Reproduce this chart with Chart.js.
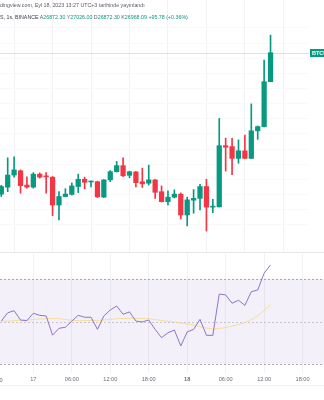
<!DOCTYPE html>
<html lang="tr">
<head>
<meta charset="utf-8">
<script src="https://cdn.jsdelivr.net/npm/chart.js@4.4.0/dist/chart.umd.min.js"></script>
<style>
  html, body { margin: 0; padding: 0; background: #fff; }
  #wrap { position: relative; width: 324px; height: 400px; overflow: hidden; font-family: "Liberation Sans", Arial, sans-serif; }
  #priceBox { position: absolute; left: 0; top: 0; width: 324px; height: 253px; }
  #rsiBox { position: absolute; left: 0; top: 253px; width: 324px; height: 132px; }
  .sep { position: absolute; left: 0; width: 324px; height: 1px; }
  .hdr { position: absolute; left: 0; font-size: 5.3px; line-height: 7px; white-space: nowrap; color: #5d606b; }
  .g { color: #089981; }
  .dk { color: #3b3e48; }
  #edgeTick { position: absolute; right: 321.5px; top: 376.5px; font-size: 5.6px; line-height: 7px; color: #6a6d78; white-space: nowrap; }
</style>
</head>
<body>
<div id="wrap">
  <div id="priceBox"><canvas id="priceChart"></canvas></div>
  <div id="rsiBox"><canvas id="rsiChart"></canvas></div>
  <div class="sep" style="top:252px;background:#e4e6ec"></div>
  <div class="sep" style="top:385px;background:#eef0f3"></div>
  <div class="hdr" style="top:2px">dingview.com, Eyl 18, 2023 13:27 UTC+3 tarihinde yayınlandı</div>
  <div class="hdr" id="ohlc" style="top:14px"></div>
  <div id="edgeTick">18:00</div>
</div>
<script>
"use strict";

// BTCUSDT 1s mumlar, 16 Eyl 19:00 -> 18 Eyl 13:00
const opens = [26501, 26524, 26564, 26578, 26531, 26524, 26567, 26560, 26557, 26465,
  26493, 26500, 26526, 26550, 26541, 26542, 26491, 26548, 26575, 26595,
  26563, 26574, 26542, 26537, 26548, 26509, 26476, 26491, 26501, 26432,
  26481, 26487, 26526, 26458, 26459, 26661, 26658, 26619, 26644, 26619,
  26710, 26724, 26872.30];
const highs = [26530, 26621, 26624, 26581, 26558, 26572, 26571, 26572, 26559, 26509,
  26519, 26538, 26567, 26557, 26544, 26544, 26549, 26579, 26609, 26621,
  26577, 26576, 26587, 26597, 26549, 26528, 26512, 26515, 26505, 26491,
  26516, 26533, 26550, 26484, 26751, 26686, 26685, 26680, 26696, 26799,
  26726, 26944, 27026.00];
const lows = [26493, 26509, 26557, 26504, 26521, 26521, 26554, 26504, 26430, 26416,
  26492, 26498, 26506, 26518, 26525, 26490, 26490, 26542, 26574, 26559,
  26555, 26525, 26523, 26531, 26487, 26475, 26465, 26488, 26419, 26396,
  26438, 26449, 26379, 26440, 26458, 26577, 26565, 26603, 26619, 26619,
  26682, 26723, 26872.30];
const closes = [26526, 26564, 26581, 26529, 26524, 26567, 26557, 26558, 26465, 26493,
  26501, 26528, 26550, 26540, 26543, 26492, 26548, 26575, 26595, 26562,
  26575, 26539, 26535, 26548, 26507, 26476, 26491, 26501, 26432, 26482,
  26487, 26526, 26458, 26459, 26661, 26656, 26619, 26644, 26619, 26710,
  26724, 26872.31, 26968.09];

// RSI(14) ve hareketli ortalaması
const rsi = [50.2, 54.1, 55.1, 50.7, 50.4, 53.9, 52.9, 52.6, 43.6, 46.8,
  47.3, 50.2, 52.9, 52.0, 52.0, 46.3, 52.6, 55.4, 57.3, 53.4,
  54.5, 50.2, 49.8, 50.7, 46.3, 42.4, 44.7, 46.0, 38.5, 45.1,
  46.3, 51.0, 43.5, 43.5, 62.9, 62.5, 58.6, 60.0, 57.6, 64.0,
  64.8, 72.7, 76.6];
const rsiMa = [50.2, 50.2, 50.4, 50.6, 50.7, 50.9, 51.2, 51.3, 51.4, 51.3,
  50.9, 50.6, 50.4, 50.4, 50.5, 50.5, 50.7, 51.0, 51.3, 51.4,
  51.5, 51.5, 51.4, 51.3, 50.9, 50.5, 50.1, 49.8, 49.3, 48.8,
  48.4, 47.6, 46.9, 46.5, 46.7, 47.2, 47.9, 48.6, 49.5, 50.9,
  52.8, 55.2, 57.8];
const rsiLevels = [70, 50, 30];

// zaman ekseni: 16 Eyl 00:00'dan itibaren saat
const firstHour = 19;
const tickHours = [18, 24, 30, 36, 42, 48, 54, 60, 66];
const tickLabels = ["18:00", "17", "06:00", "12:00", "18:00", "18", "06:00", "12:00", "18:00"];

const hours = opens.map((_, i) => firstHour + i);

const UP = "#089981";
const DOWN = "#f23645";
const GRID = "#f1f2f5";

const candleColors = opens.map((o, i) => (closes[i] >= o ? UP : DOWN));

// başlık satırı
const n = closes.length - 1;
const chg = closes[n] - closes[n - 1];
const pct = (chg / closes[n - 1]) * 100;
document.getElementById("ohlc").innerHTML =
  '<span class="dk">S, 1s, BINANCE</span> ' +
  'A<span class="g">' + opens[n].toFixed(2) + '</span> ' +
  'Y<span class="g">' + highs[n].toFixed(2) + '</span> ' +
  'D<span class="g">' + lows[n].toFixed(2) + '</span> ' +
  'K<span class="g">' + closes[n].toFixed(2) + '</span> ' +
  '<span class="g">+' + chg.toFixed(2) + ' (+' + pct.toFixed(2) + '%)</span>';

const xRange = { min: 18.8, max: 67.0 };

function timeTicks(scale) {
  scale.ticks = tickHours
    .filter((h) => h >= scale.min && h <= scale.max)
    .map((h) => ({ value: h }));
}

// son fiyat çizgisi ve etiketi
const lastPrice = {
  id: "lastPrice",
  beforeDatasetsDraw(chart) {
    const { ctx, chartArea } = chart;
    const y = Math.round(chart.scales.y.getPixelForValue(closes[n])) + 0.5;
    ctx.save();
    ctx.strokeStyle = "#dedfe4";
    ctx.lineWidth = 1;
    ctx.beginPath();
    ctx.moveTo(chartArea.left, y);
    ctx.lineTo(chartArea.right, y);
    ctx.stroke();
    ctx.restore();
  },
  afterDraw(chart) {
    const { ctx, chartArea } = chart;
    const y = Math.round(chart.scales.y.getPixelForValue(closes[n]));
    ctx.save();
    ctx.fillStyle = UP;
    ctx.fillRect(chartArea.right + 1, y - 4, 30, 8);
    ctx.fillStyle = "#fff";
    ctx.font = "bold 5.5px 'Liberation Sans', Arial, sans-serif";
    ctx.textBaseline = "middle";
    ctx.fillText("BTCUSDT", chartArea.right + 3, y + 0.5);
    ctx.restore();
  },
};

new Chart(document.getElementById("priceChart"), {
  type: "bar",
  data: {
    datasets: [
      {
        // fitiller
        data: hours.map((h, i) => ({ x: h, y: [lows[i], highs[i]] })),
        backgroundColor: candleColors,
        barThickness: 1,
        grouped: false,
        order: 2,
      },
      {
        // gövdeler
        data: hours.map((h, i) => ({ x: h, y: [opens[i], closes[i]] })),
        backgroundColor: candleColors,
        barThickness: 4.6,
        minBarLength: 1,
        grouped: false,
        order: 1,
      },
    ],
  },
  options: {
    animation: false,
    responsive: true,
    maintainAspectRatio: false,
    layout: { padding: { left: 0, right: 15, top: 0, bottom: 0 } },
    plugins: { legend: { display: false }, tooltip: { enabled: false } },
    scales: {
      x: {
        type: "linear",
        min: xRange.min,
        max: xRange.max,
        offset: false,
        afterBuildTicks: timeTicks,
        afterFit: (s) => { s.height = 0; },
        ticks: { display: false },
        grid: { color: GRID, drawTicks: false },
        border: { display: false },
      },
      y: {
        position: "right",
        min: 26306.5,
        max: 27142.16,
        afterFit: (s) => { s.width = 0; },
        ticks: { display: false, stepSize: 50 },
        grid: {
          drawTicks: false,
          color: (c) => (c.tick && c.tick.value % 50 === 0 ? "#f9f9fb" : "transparent"),
        },
        border: { display: false },
      },
    },
  },
  plugins: [lastPrice],
});

// RSI bandı ve seviye çizgileri (tüm genişlik boyunca)
const rsiBand = {
  id: "rsiBand",
  beforeDatasetsDraw(chart) {
    const { ctx, chartArea } = chart;
    const y = chart.scales.y;
    const top = y.getPixelForValue(rsiLevels[0]);
    const bottom = y.getPixelForValue(rsiLevels[2]);
    ctx.save();
    ctx.fillStyle = "rgba(126, 87, 194, 0.09)";
    ctx.fillRect(chartArea.left, top, chart.width - chartArea.left, bottom - top);
    ctx.setLineDash([2, 2]);
    ctx.lineWidth = 1;
    rsiLevels.forEach((lv, i) => {
      const py = Math.round(y.getPixelForValue(lv)) + 0.5;
      ctx.strokeStyle = i === 1 ? "rgba(120, 123, 134, 0.35)" : "rgba(120, 123, 134, 0.6)";
      ctx.beginPath();
      ctx.moveTo(chartArea.left, py);
      ctx.lineTo(chart.width, py);
      ctx.stroke();
    });
    ctx.restore();
  },
};

new Chart(document.getElementById("rsiChart"), {
  type: "line",
  data: {
    datasets: [
      {
        label: "RSI",
        data: hours.map((h, i) => ({ x: h, y: rsi[i] })),
        borderColor: "#8c74c9",
        borderWidth: 1,
        pointRadius: 0,
        tension: 0,
        order: 1,
      },
      {
        label: "RSI MA",
        data: hours.map((h, i) => ({ x: h, y: rsiMa[i] })),
        borderColor: "rgba(246, 214, 110, 0.7)",
        borderWidth: 1,
        pointRadius: 0,
        tension: 0.3,
        order: 2,
      },
    ],
  },
  options: {
    animation: false,
    responsive: true,
    maintainAspectRatio: false,
    layout: { padding: { left: 0, right: 15, top: 0, bottom: 0 } },
    plugins: { legend: { display: false }, tooltip: { enabled: false } },
    scales: {
      x: {
        type: "linear",
        min: xRange.min,
        max: xRange.max,
        afterBuildTicks: timeTicks,
        afterFit: (s) => { s.height = 12; },
        ticks: {
          padding: 3,
          color: "#6a6d78",
          maxRotation: 0,
          autoSkip: false,
          font: (c) => ({
            family: "'Liberation Sans', Arial, sans-serif",
            size: 5.6,
            weight: c.tick && c.tick.value === 48 ? "bold" : "normal",
          }),
          callback: (v) => tickLabels[tickHours.indexOf(v)],
        },
        grid: { color: GRID, drawTicks: false },
        border: { display: false },
      },
      y: {
        display: false,
        min: 25.8,
        max: 82.2,
      },
    },
  },
  plugins: [rsiBand],
});
</script>
</body>
</html>
